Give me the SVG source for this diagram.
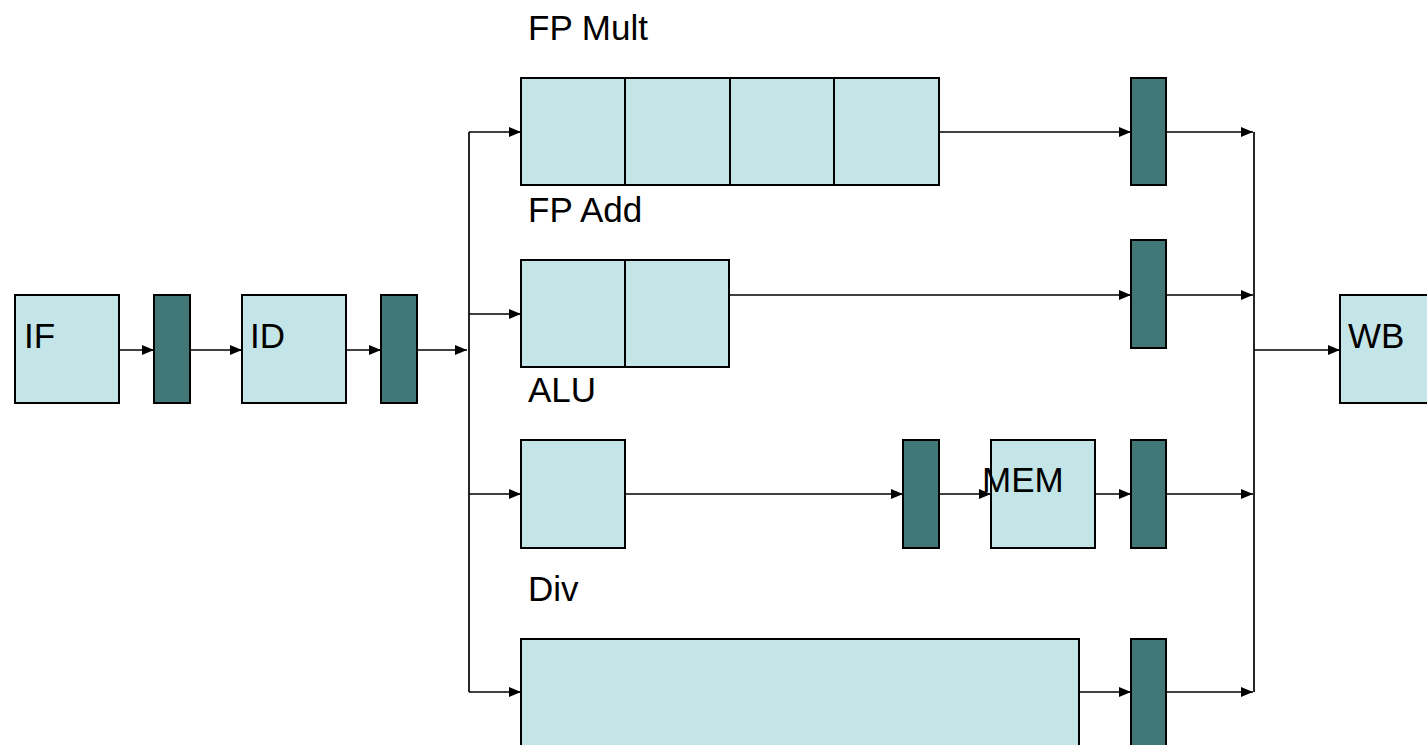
<svg xmlns="http://www.w3.org/2000/svg" width="1427" height="745" viewBox="0 0 1427 745">
<defs>
<marker id="ah" markerWidth="12" markerHeight="10" refX="12" refY="5" orient="auto" markerUnits="userSpaceOnUse">
<path d="M0,0 L12,5 L0,10 Z" fill="#000"/>
</marker>
</defs>
<style>
.u{fill:#C4E5E8;stroke:#000;stroke-width:2}
.r{fill:#417777;stroke:#000;stroke-width:2}
.c{fill:none;stroke:#000;stroke-width:1.7}
.a{marker-end:url(#ah)}
text{font-family:"Liberation Sans",Arial,sans-serif;font-size:35px;fill:#000}
</style>
<rect width="1427" height="745" fill="#fff"/>
<g id="connectors">
<path class="c a" d="M119,350 L154,350"/>
<path class="c a" d="M190,350 L242,350"/>
<path class="c a" d="M346,350 L381,350"/>
<path class="c a" d="M417,350 L467,350"/>
<path class="c" d="M469,132 L469,692"/>
<path class="c a" d="M469,132 L521,132"/>
<path class="c a" d="M469,314 L521,314"/>
<path class="c a" d="M469,494 L521,494"/>
<path class="c a" d="M469,692 L521,692"/>
<path class="c a" d="M939,132 L1131,132"/>
<path class="c a" d="M729,295 L1131,295"/>
<path class="c a" d="M625,494 L903,494"/>
<path class="c a" d="M939,494 L991,494"/>
<path class="c a" d="M1095,494 L1131,494"/>
<path class="c a" d="M1079,692 L1131,692"/>
<path class="c a" d="M1166,132 L1253,132"/>
<path class="c a" d="M1166,295 L1253,295"/>
<path class="c a" d="M1166,494 L1253,494"/>
<path class="c a" d="M1166,692 L1253,692"/>
<path class="c" d="M1254,132 L1254,692"/>
<path class="c a" d="M1254,350 L1340,350"/>
</g>
<g id="IF"><rect class="u" x="15" y="295" width="104" height="108"/><text x="24" y="348">IF</text></g>
<g id="reg1"><rect class="r" x="154" y="295" width="36" height="108"/></g>
<g id="ID"><rect class="u" x="242" y="295" width="104" height="108"/><text x="250" y="348">ID</text></g>
<g id="reg2"><rect class="r" x="381" y="295" width="36" height="108"/></g>
<g id="FPMult">
<text x="528" y="40">FP Mult</text>
<rect class="u" x="521" y="78" width="104" height="107"/>
<rect class="u" x="625" y="78" width="105" height="107"/>
<rect class="u" x="730" y="78" width="104" height="107"/>
<rect class="u" x="834" y="78" width="105" height="107"/>
</g>
<g id="FPAdd">
<text x="528" y="222">FP Add</text>
<rect class="u" x="521" y="260" width="104" height="107"/>
<rect class="u" x="625" y="260" width="104" height="107"/>
</g>
<g id="ALU">
<text x="528" y="402">ALU</text>
<rect class="u" x="521" y="440" width="104" height="108"/>
</g>
<g id="regALU"><rect class="r" x="903" y="440" width="36" height="108"/></g>
<g id="MEM"><rect class="u" x="991" y="440" width="104" height="108"/><text x="982" y="492">MEM</text></g>
<g id="Div">
<text x="528" y="601">Div</text>
<rect class="u" x="521" y="639" width="558" height="120"/>
</g>
<g id="regMult"><rect class="r" x="1131" y="78" width="35" height="107"/></g>
<g id="regAdd"><rect class="r" x="1131" y="240" width="35" height="108"/></g>
<g id="regMem"><rect class="r" x="1131" y="440" width="35" height="108"/></g>
<g id="regDiv"><rect class="r" x="1131" y="639" width="35" height="120"/></g>
<g id="WB"><rect class="u" x="1340" y="295" width="100" height="108"/><text x="1348" y="348">WB</text></g>
</svg>
